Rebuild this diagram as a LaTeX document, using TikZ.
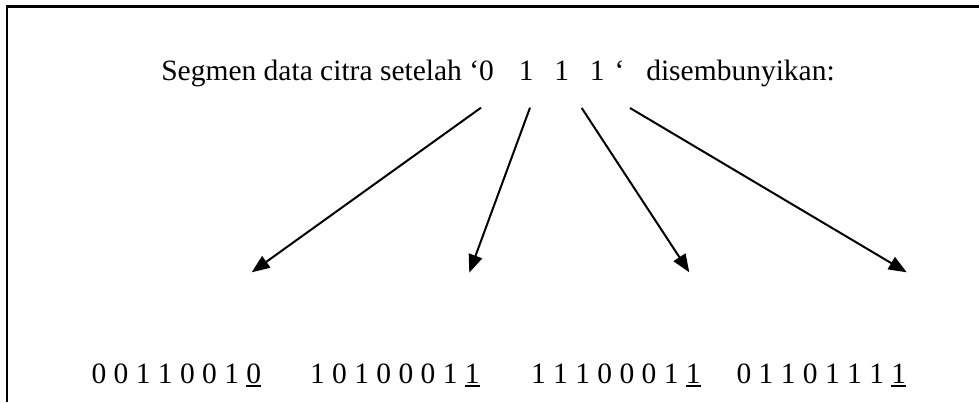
\documentclass[tikz,border=0pt]{standalone}
\usepackage{fontspec}
\setmainfont{Liberation Serif}
\usetikzlibrary{arrows.meta}
\newcommand\myul[1]{\setbox0\hbox{#1}\rlap{\rule[-4pt]{\wd0}{1.8pt}}\box0}
\tikzset{
  frameline/.style={line width=2.5pt},
  txt/.style={inner sep=0pt, anchor=base west, font=\fontsize{29.5}{34}\selectfont},
  arr/.style={line width=2pt, -{Triangle[length=18pt,width=14pt]}}
}
\begin{document}
\begin{tikzpicture}[x=1pt,y=-1pt]
\useasboundingbox (0,0) rectangle (979,402);
\draw[frameline] (7,402) -- (7,6.5) -- (979,6.5);
\node[txt] (title) at (161.1,80) {Segmen data citra setelah ‘0\hspace{25pt}1\hspace{20.75pt}1\hspace{20.75pt}1\hspace{10pt}‘\hspace{21.8pt}disembunyikan:};
\node[txt] (g1) at (91.3,383) {0 0 1 1 0 0 1 \myul{0}};
\node[txt] (g2) at (309.8,383) {1 0 1 0 0 0 1 \myul{1}};
\node[txt] (g3) at (530.8,383) {1 1 1 0 0 0 1 \myul{1}};
\node[txt] (g4) at (736.3,383) {0 1 1 0 1 1 1 \myul{1}};
\coordinate (s1) at (481,107.7);
\coordinate (s2) at (530,107.7);
\coordinate (s3) at (581.7,108);
\coordinate (s4) at (630,108);
\coordinate (t1) at (251.7,272.3);
\coordinate (t2) at (469.3,272.7);
\coordinate (t3) at (689.3,272.3);
\coordinate (t4) at (906.7,272.3);
\draw[arr] (s1) -- (t1);
\draw[arr] (s2) -- (t2);
\draw[arr] (s3) -- (t3);
\draw[arr] (s4) -- (t4);
\end{tikzpicture}
\end{document}
